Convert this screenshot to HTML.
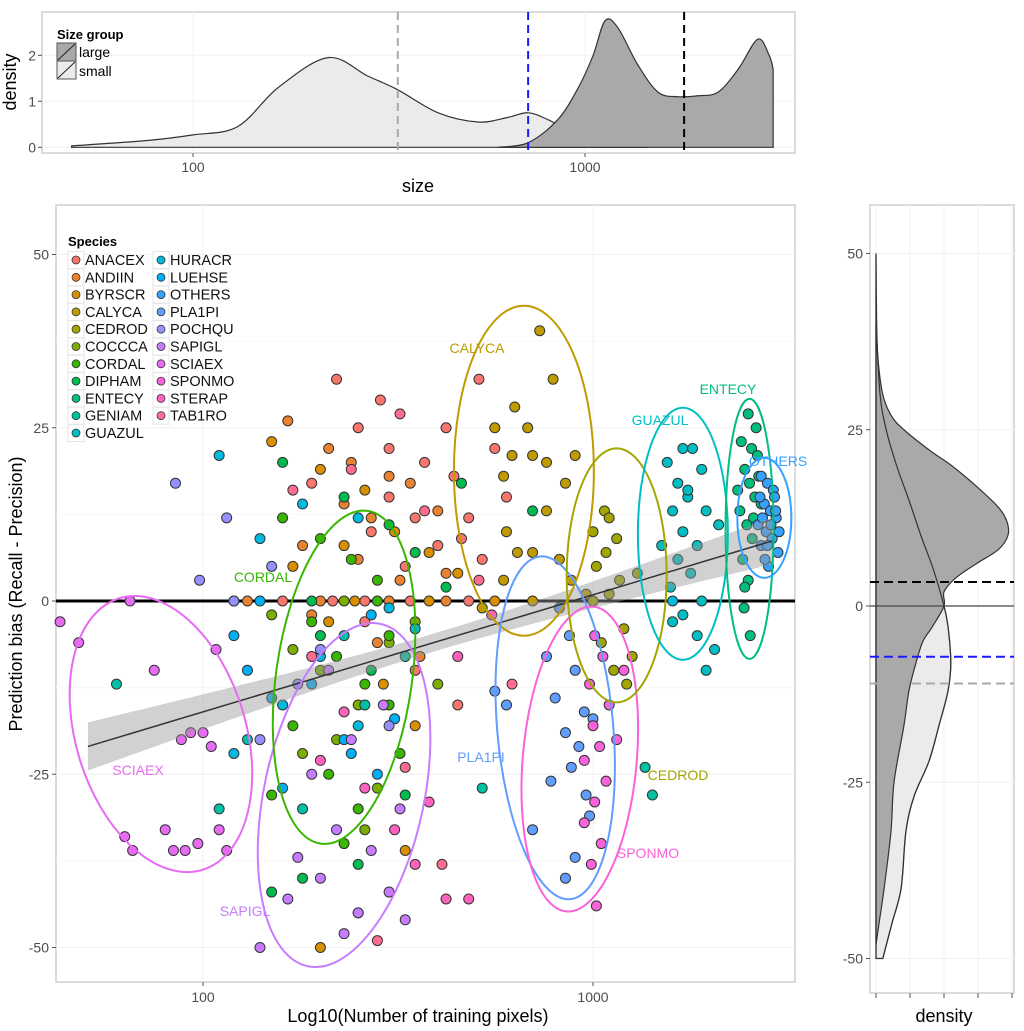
<!DOCTYPE html>
<html><head><meta charset="utf-8">
<style>
html,body{margin:0;padding:0;background:#fff;}
svg{display:block;font-family:"Liberation Sans",sans-serif;}
.tick{font-size:14px;fill:#4d4d4d;}
.title{font-size:18px;fill:#000;}
</style></head>
<body>
<svg id="chart" width="1024" height="1031" viewBox="0 0 1024 1031" xmlns="http://www.w3.org/2000/svg"></svg>
<script>
// ---------- data ----------
const speciesNames=["ANACEX","ANDIIN","BYRSCR","CALYCA","CEDROD","COCCCA","CORDAL","DIPHAM","ENTECY","GENIAM","GUAZUL","HURACR","LUEHSE","OTHERS","PLA1PI","POCHQU","SAPIGL","SCIAEX","SPONMO","STERAP","TAB1RO"];
const speciesColors=["#F8766D","#EA8331","#D89000","#C09B00","#A3A500","#7CAE00","#39B600","#00BB4E","#00BF7D","#00C1A3","#00BFC4","#00BAE0","#00B0F6","#35A2FF","#619CFF","#9590FF","#C77CFF","#E76BF3","#FA62DB","#FF62BC","#FF6C91"];
const ptsANACEX=[[220,32],[285,29],[250,25],[300,22],[370,20],[190,17],[420,25],[440,18],[300,15],[350,12],[460,9],[510,32],[560,22],[480,12],[520,6],[400,8],[270,10],[600,15],[330,5],[260,-3],[350,-10],[450,-15],[120,0],[160,0],[215,0],[260,0],[340,0],[480,0]];
const ptsANDIIN=[[165,26],[210,22],[240,20],[300,18],[230,14],[270,12],[340,17],[400,13],[180,8],[250,6],[320,3],[420,4],[190,-2],[280,-6],[360,-8],[130,0],[200,0],[300,0],[420,0]];
const ptsBYRSCR=[[150,23],[200,19],[260,16],[310,10],[230,8],[170,5],[380,7],[450,4],[210,-3],[290,-12],[350,-18],[250,-45],[200,-50],[330,-36],[245,0],[380,0],[560,0]];
const ptsCALYCA=[[730,39],[790,32],[630,28],[680,25],[560,25],[620,21],[700,21],[760,20],[900,21],[590,18],[850,17],[760,13],[640,7],[700,7],[820,6],[590,3],[880,3],[960,1],[520,-1],[600,10],[700,0]];
const ptsCEDROD=[[1070,13],[1100,12],[1000,10],[1150,9],[1080,7],[1020,5],[1170,3],[1100,1],[1200,-4],[1260,-8],[1130,-10],[1220,-12],[1050,-6],[1300,4],[1000,0]];
const ptsCOCCCA=[[150,-2],[170,-7],[200,-10],[250,-15],[300,-6],[350,-3],[220,-20],[280,-27],[180,-22],[400,-12],[260,-33],[230,0]];
const ptsCORDAL=[[160,12],[200,9],[240,6],[280,3],[190,-3],[220,-8],[260,-12],[300,-15],[170,-18],[210,-25],[250,-30],[320,-22],[300,-5],[150,-28],[230,-35],[280,0]];
const ptsDIPHAM=[[160,20],[230,15],[300,11],[350,7],[420,2],[200,-5],[270,-10],[330,-28],[150,-42],[180,-40],[250,-38],[700,13],[460,17],[190,0]];
const ptsENTECY=[[2500,27],[2400,23],[2550,22],[2450,19],[2520,17],[2600,15],[2380,13],[2480,11],[2560,9],[2420,6],[2500,3],[2440,-1],[2530,-5],[2450,2],[2640,21],[2350,16],[2580,12],[2660,18],[2700,14],[2620,25]];
const ptsGENIAM=[[60,-12],[110,-30],[130,-20],[230,-5],[330,-8],[520,-27],[1420,-28],[1360,-24],[260,-15],[180,-30]];
const ptsGUAZUL=[[1700,22],[1800,22],[1550,20],[1900,19],[1650,17],[1750,15],[1600,13],[1950,13],[1700,10],[1500,8],[1850,8],[1650,6],[1780,4],[1580,2],[1900,0],[1700,-2],[1850,-5],[1600,-3],[2050,-7],[1950,-10],[1750,16],[2100,11]];
const ptsHURACR=[[110,21],[180,14],[250,12],[140,9],[300,-1],[200,-8],[160,-15],[120,-22],[350,-4],[250,-18],[1600,0]];
const ptsLUEHSE=[[130,-10],[150,-14],[230,-20],[280,-25],[190,-12],[310,-17],[160,-27],[240,-22],[120,-5],[270,-2],[140,0]];
const ptsOTHERS=[[2700,18],[2800,17],[2900,16],[2750,14],[2850,13],[2950,12],[2650,11],[2780,10],[2880,9],[2700,8],[2980,7],[2820,5],[2920,15],[2720,12],[2860,11],[3000,10],[2760,6],[2680,15],[2940,13],[2800,8]];
const ptsPLA1PI=[[820,-1],[870,-5],[760,-8],[900,-10],[800,-14],[950,-16],[850,-19],[920,-21],[880,-24],[780,-26],[960,-28],[700,-33],[900,-37],[850,-40],[980,-31],[1000,-17],[600,-15],[560,-13]];
const ptsPOCHQU=[[85,17],[115,12],[150,5],[98,3],[120,0],[200,-7],[175,-12],[300,-18],[140,-20]];
const ptsSAPIGL=[[140,-50],[200,-40],[250,-45],[300,-42],[175,-37],[220,-33],[270,-36],[320,-30],[190,-25],[240,-20],[290,-15],[210,-10],[165,-43],[330,-46],[230,-48]];
const ptsSCIAEX=[[43,-3],[48,-6],[63,-34],[66,-36],[80,-33],[84,-36],[90,-36],[97,-35],[110,-33],[115,-36],[100,-19],[105,-21],[75,-10],[88,-20],[93,-19],[108,-7],[65,0]];
const ptsSPONMO=[[1010,-5],[1060,-8],[980,-12],[1100,-15],[1000,-18],[1040,-21],[950,-23],[1080,-26],[1010,-29],[950,-32],[1050,-35],[990,-38],[1020,-44],[1150,-20],[1200,-10]];
const ptsSTERAP=[[200,-23],[260,-27],[310,-33],[350,-38],[420,-43],[480,-43],[380,-29],[230,-16],[450,-8],[550,-2]];
const ptsTAB1RO=[[170,16],[240,19],[320,27],[370,13],[280,-49],[410,-38],[330,-24],[190,-8],[510,3],[620,-12]];
const allPts=[ptsANACEX,ptsANDIIN,ptsBYRSCR,ptsCALYCA,ptsCEDROD,ptsCOCCCA,ptsCORDAL,ptsDIPHAM,ptsENTECY,ptsGENIAM,ptsGUAZUL,ptsHURACR,ptsLUEHSE,ptsOTHERS,ptsPLA1PI,ptsPOCHQU,ptsSAPIGL,ptsSCIAEX,ptsSPONMO,ptsSTERAP,ptsTAB1RO];
// regression fit (bias = a + b*log10(n))
const fitA=-49.8, fitB=16.9, fitMean=2.6, fitSe0=1.3, fitK=3.6;
const fitRange=[50.7,2880];
// top density (size)
const smallSize=[49,77,100,130,165,221,279,333,422,534,636,716,805,962,1145,1448];
const smallDens=[0.03,0.15,0.27,0.45,1.3,1.95,1.55,1.25,0.75,0.55,0.65,0.75,0.6,0.25,0.08,0.0];
const largeSize=[600,716,852,962,1049,1125,1213,1362,1535,1726,1943,2186,2460,2760,2950,3020];
const largeDens=[0,0.1,0.6,1.3,2.0,2.75,2.6,1.8,1.2,1.1,1.12,1.2,1.7,2.35,2.0,1.7];
const sizeMarks=[333,716,1790];
// right density (bias)
const largeBias=[50,40,35,30,27,25,22,20,17,14,12,10,8,6,4,2,0,-3,-5,-8,-12,-17,-25,-32,-40,-45,-48];
const largeBDens=[0,0.02,0.06,0.2,0.45,0.82,1.6,2.2,2.95,3.6,3.85,3.88,3.6,2.95,2.35,2.0,2.0,1.65,1.38,1.18,0.97,0.82,0.53,0.44,0.24,0.09,0];
const smallBias=[40,30,25,20,15,10,5,0,-3,-8,-12,-17,-22,-27,-32,-40,-45,-50];
const smallBDens=[0,0.12,0.3,0.6,0.97,1.32,1.7,2.0,2.12,2.2,2.12,1.85,1.56,1.12,0.88,0.74,0.47,0.2];
const biasMarks=[3.4,-7.2,-11.0];
const markColors=["#000","#1a1aff","#aaa"];
// ---------- helpers ----------
const NS="http://www.w3.org/2000/svg";
const svg=document.getElementById('chart');
function mk(tag,attrs,parent){const e=document.createElementNS(NS,tag);for(const k in attrs)e.setAttribute(k,attrs[k]);(parent||svg).appendChild(e);return e;}
const L=Math.log10;
const xs=v=>203+(L(v)-2)*390, ys=v=>601-v*6.93;
const xt=v=>193+(L(v)-2)*392, yt=d=>147.3-d*46;
const yr=b=>606-b*7.05, xr=d=>876+d*34;
// smooth Catmull-Rom through pixel points; returns path segments (starting with L to first)
function smooth(pts){let d='L'+pts[0][0]+','+pts[0][1];
 for(let i=0;i<pts.length-1;i++){const p0=pts[i-1]||pts[i],p1=pts[i],p2=pts[i+1],p3=pts[i+2]||p2;
  const c1=[p1[0]+(p2[0]-p0[0])/6,p1[1]+(p2[1]-p0[1])/6],c2=[p2[0]-(p3[0]-p1[0])/6,p2[1]-(p3[1]-p1[1])/6];
  d+=`C${c1[0]},${c1[1]} ${c2[0]},${c2[1]} ${p2[0]},${p2[1]}`;}
 return d;}

// ---------- top panel ----------
const topPanel=mk('g',{});


mk('rect',{x:42,y:12,width:753,height:141,fill:'#fff',stroke:'#cfcfcf','stroke-width':1.5},topPanel);
[0,1,2].forEach(d=>{mk('line',{x1:42,x2:795,y1:yt(d),y2:yt(d),stroke:'#f0f0f0'},topPanel);
 const t=mk('text',{x:36,y:yt(d)+5,'text-anchor':'end',class:'tick'},topPanel);t.textContent=d;
 mk('line',{x1:38,x2:42,y1:yt(d),y2:yt(d),stroke:'#555'},topPanel);});
[100,1000].forEach(v=>{mk('line',{x1:xt(v),x2:xt(v),y1:12,y2:153,stroke:'#f0f0f0'},topPanel);
 mk('line',{x1:xt(v),x2:xt(v),y1:153,y2:157,stroke:'#555'},topPanel);
 const t=mk('text',{x:xt(v),y:172,'text-anchor':'middle',class:'tick'},topPanel);t.textContent=v;});
function areaTop(sz,ds,fill,name){const pts=sz.map((s,i)=>[xt(s),yt(ds[i])]);
 let d=`M${xt(sz[0])},${yt(0)}`+smooth(pts)+`L${xt(sz[sz.length-1])},${yt(0)}Z`;
 const p=mk('path',{d,fill,stroke:'#333','stroke-width':1.2},topPanel);
 
 }
areaTop(smallSize,smallDens,'#ebebeb','small-density');
areaTop(largeSize,largeDens,'#a9a9a9','large-density');
sizeMarks.forEach((v,i)=>{const l=mk('line',{x1:xt(v),x2:xt(v),y1:12,y2:153,stroke:markColors[[2,1,0][i]],'stroke-width':2,'stroke-dasharray':'8,5'},topPanel);
 
 });
let tt=mk('text',{x:16,y:82,class:'title',transform:'rotate(-90 16 82)','text-anchor':'middle'},topPanel);tt.textContent='density';
tt=mk('text',{x:418,y:192,class:'title','text-anchor':'middle'},topPanel);tt.textContent='size';
// top legend
const tl=mk('g',{},topPanel);


tt=mk('text',{x:57,y:39,'font-size':'13','font-weight':'bold'},tl);tt.textContent='Size group';
mk('rect',{x:57,y:43,width:19,height:18,fill:'#a9a9a9',stroke:'#555'},tl);
mk('line',{x1:58,y1:60,x2:75,y2:44,stroke:'#222'},tl);
mk('rect',{x:57,y:61,width:19,height:18,fill:'#ebebeb',stroke:'#555'},tl);
mk('line',{x1:58,y1:78,x2:75,y2:62,stroke:'#222'},tl);
tt=mk('text',{x:79,y:57,'font-size':'14'},tl);tt.textContent='large';
tt=mk('text',{x:79,y:76,'font-size':'14'},tl);tt.textContent='small';

// ---------- main panel ----------
const mainPanel=mk('g',{});


mk('rect',{x:56,y:205,width:739,height:777,fill:'#fff',stroke:'#cfcfcf','stroke-width':1.5},mainPanel);
[-37.5,-12.5,12.5,37.5].forEach(v=>mk('line',{x1:56,x2:795,y1:ys(v),y2:ys(v),stroke:'#f7f7f7'},mainPanel));
[-50,-25,0,25,50].forEach(v=>{mk('line',{x1:56,x2:795,y1:ys(v),y2:ys(v),stroke:'#f0f0f0'},mainPanel);
 mk('line',{x1:52,x2:56,y1:ys(v),y2:ys(v),stroke:'#555'},mainPanel);
 const t=mk('text',{x:49,y:ys(v)+5,'text-anchor':'end',class:'tick'},mainPanel);t.textContent=v;});
[100,1000].forEach(v=>{mk('line',{x1:xs(v),x2:xs(v),y1:205,y2:982,stroke:'#f0f0f0'},mainPanel);
 mk('line',{x1:xs(v),x2:xs(v),y1:982,y2:986,stroke:'#555'},mainPanel);
 const t=mk('text',{x:xs(v),y:1002,'text-anchor':'middle',class:'tick'},mainPanel);t.textContent=v;});
const zl=mk('line',{x1:56,x2:795,y1:ys(0),y2:ys(0),stroke:'#000','stroke-width':3},mainPanel);


allPts.forEach((arr,si)=>arr.forEach(p=>{
 const c=mk('circle',{cx:xs(p[0]),cy:ys(p[1]),r:5,fill:speciesColors[si],stroke:'#333','stroke-width':1},mainPanel);
 
 }));
// regression band + line
{let up='',lo=[];const n=40;const l0=L(fitRange[0]),l1=L(fitRange[1]);
 for(let i=0;i<=n;i++){const lx=l0+(l1-l0)*i/n;const yv=fitA+fitB*lx;const h=Math.sqrt(fitSe0*fitSe0+fitK*fitK*(lx-fitMean)*(lx-fitMean));
  const px=xs(Math.pow(10,lx));up+=(i?'L':'M')+px+','+ys(yv+h);lo.unshift(px+','+ys(yv-h));}
 const band=mk('path',{d:up+'L'+lo.join('L')+'Z',fill:'#999','fill-opacity':0.45},mainPanel);
 
 
 const rl=mk('line',{x1:xs(fitRange[0]),y1:ys(fitA+fitB*l0),x2:xs(fitRange[1]),y2:ys(fitA+fitB*l1),stroke:'#333','stroke-width':1.5},mainPanel);
 
 }
// species ellipses (annotation): center data, radii px, rotation, label pos px
const ellipses=[
 ["SCIAEX",78,-19.2,85,142,-17,138,775],
 ["SAPIGL",230,-28,80,175,12,245,916],
 ["CORDAL",230,-11,68,168,8,263,582],
 ["CALYCA",665,18.8,70,165,0,477,353],
 ["PLA1PI",800,-18.3,58,172,-5,481,762],
 ["SPONMO",925,-22.8,57,153,5,648,858],
 ["CEDROD",1150,3.7,50,127,0,678,780],
 ["GUAZUL",1700,9.7,45,126,0,660,425],
 ["ENTECY",2520,10.4,24,130,0,728,394],
 ["OTHERS",2750,12,27,60,0,778,466]];
ellipses.forEach(e=>{const c=speciesColors[speciesNames.indexOf(e[0])];const cx=xs(e[1]),cy=ys(e[2]);
 const el=mk('ellipse',{cx,cy,rx:e[3],ry:e[4],fill:'none',stroke:c,'stroke-width':2,transform:`rotate(${e[5]} ${cx} ${cy})`},mainPanel);
 
 
 const t=mk('text',{x:e[6],y:e[7],fill:c,'font-size':'14','text-anchor':'middle'},mainPanel);t.textContent=e[0];
 
 });
tt=mk('text',{x:22,y:594,class:'title',transform:'rotate(-90 22 594)','text-anchor':'middle'},mainPanel);tt.textContent='Prediction bias (Recall - Precision)';
tt=mk('text',{x:418,y:1022,class:'title','text-anchor':'middle'},mainPanel);tt.textContent='Log10(Number of training pixels)';
// species legend
const lg=mk('g',{},mainPanel);


tt=mk('text',{x:68,y:246,'font-size':'13','font-weight':'bold'},lg);tt.textContent='Species';
speciesNames.forEach((s,i)=>{const col=i<11?0:1,row=i<11?i:i-11;const x=col?161:76,y=260+row*17.3;
 mk('rect',{x:x-8,y:y-8.5,width:16,height:17,fill:'#fff',stroke:'#e5e5e5'},lg);
 mk('circle',{cx:x,cy:y,r:4,fill:speciesColors[i],stroke:'#333','stroke-width':0.8},lg);
 const t=mk('text',{x:x+9,y:y+5,'font-size':'14.5',fill:'#111'},lg);t.textContent=s;});

// ---------- right panel ----------
const rp=mk('g',{});


mk('rect',{x:870,y:205,width:144,height:788,fill:'#fff',stroke:'#cfcfcf','stroke-width':1.5},rp);
[-50,-25,0,25,50].forEach(v=>{mk('line',{x1:870,x2:1014,y1:yr(v),y2:yr(v),stroke:'#f0f0f0'},rp);
 mk('line',{x1:866,x2:870,y1:yr(v),y2:yr(v),stroke:'#555'},rp);
 const t=mk('text',{x:863,y:yr(v)+5,'text-anchor':'end',class:'tick'},rp);t.textContent=v;});
[0,1,2,3,4].forEach(d=>{mk('line',{x1:xr(d),x2:xr(d),y1:205,y2:993,stroke:'#f3f3f3'},rp);
 mk('line',{x1:xr(d),x2:xr(d),y1:993,y2:998,stroke:'#555'},rp);});
function areaR(bs,ds,fill,name){const pts=bs.map((b,i)=>[xr(ds[i]),yr(b)]);
 let d=`M${xr(0)},${yr(bs[0])}`+smooth(pts)+`L${xr(0)},${yr(bs[bs.length-1])}Z`;
 const p=mk('path',{d,fill,stroke:'#333','stroke-width':1.2},rp);
 
 return d;}
areaR(smallBias,smallBDens,'#ebebeb','small-bias-density');
areaR(largeBias,largeBDens,'#a9a9a9','large-bias-density');
{const pts=smallBias.map((b,i)=>[xr(smallBDens[i]),yr(b)]);mk('path',{d:'M'+pts[0][0]+','+pts[0][1]+smooth(pts),fill:'none',stroke:'#333','stroke-width':1.2},rp);}
mk('line',{x1:xr(0),x2:xr(0),y1:yr(50),y2:yr(-50),stroke:'#333','stroke-width':1.2},rp);
mk('line',{x1:870,x2:1014,y1:yr(0),y2:yr(0),stroke:'#444','stroke-width':1.2},rp);
biasMarks.forEach((b,i)=>{const l=mk('line',{x1:870,x2:1014,y1:yr(b),y2:yr(b),stroke:markColors[i],'stroke-width':2,'stroke-dasharray':'9,5'},rp);
 
 });
tt=mk('text',{x:944,y:1022,class:'title','text-anchor':'middle'},rp);tt.textContent='density';
</script>
</body></html>
